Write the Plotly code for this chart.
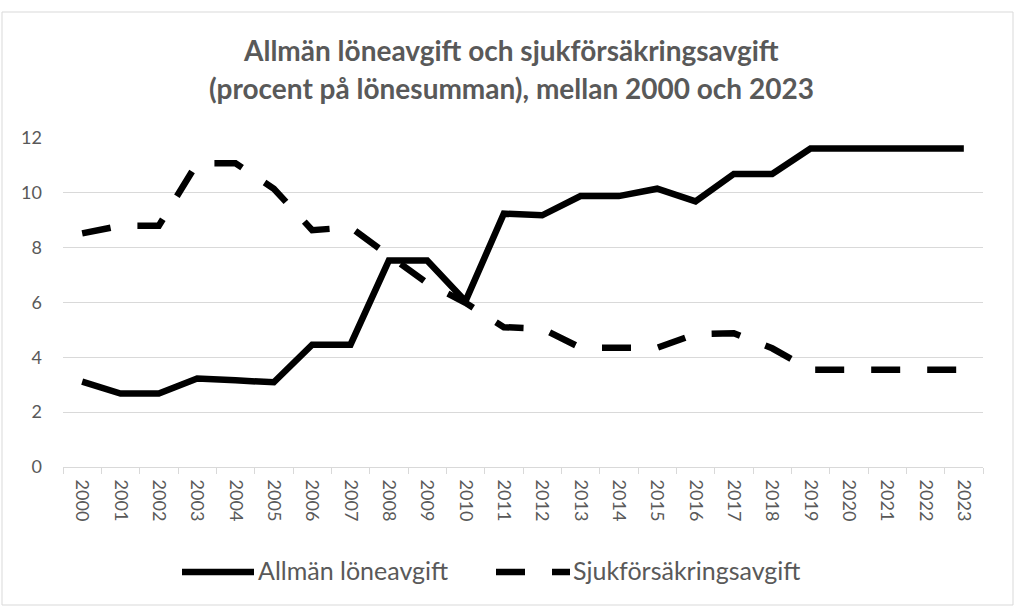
import plotly.graph_objects as go

years = [str(y) for y in range(2000, 2024)]
allman = [3.11, 2.68, 2.68, 3.23, 3.16, 3.09, 4.46, 4.46, 7.53, 7.53, 6.05, 9.24,
          9.18, 9.88, 9.88, 10.15, 9.69, 10.69, 10.69, 11.62, 11.62, 11.62, 11.62, 11.62]
sjuk = [8.52, 8.80, 8.80, 11.08, 11.08, 10.15, 8.64, 8.74, 7.72, 6.71, 5.99, 5.10,
        5.05, 4.35, 4.35, 4.35, 4.85, 4.88, 4.33, 3.55, 3.55, 3.55, 3.55, 3.55]
y_ticks = [0, 2, 4, 6, 8, 10, 12]
title_lines = ["Allmän löneavgift och sjukförsäkringsavgift",
               "(procent på lönesumman), mellan 2000 och 2023"]
names = ["Allmän löneavgift", "Sjukförsäkringsavgift"]

FONT = "Lato"
GRAY = "#595959"
LW = 6.5
DASH = "29px,27px"

fig = go.Figure()
fig.add_trace(go.Scatter(x=years, y=allman, mode="lines", name=names[0],
                         showlegend=False, line=dict(color="black", width=LW)))
fig.add_trace(go.Scatter(x=years, y=sjuk, mode="lines", name=names[1],
                         showlegend=False, line=dict(color="black", width=LW, dash=DASH)))

L, R, T, B = 63, 41, 138, 147
W, H = 1024, 614
pw, ph = W - L - R, H - T - B


def px_x(x):
    return (x - L) / pw


def px_y(y):
    return (H - B - y) / ph


annotations = [
    dict(text="<b>%s</b>" % title_lines[0], xref="paper", yref="paper",
         x=px_x(511), y=px_y(50), xanchor="center", yanchor="middle",
         showarrow=False, font=dict(family=FONT, size=28, color=GRAY)),
    dict(text="<b>%s</b>" % title_lines[1], xref="paper", yref="paper",
         x=px_x(511), y=px_y(88), xanchor="center", yanchor="middle",
         showarrow=False, font=dict(family=FONT, size=28, color=GRAY)),
    # legend labels
    dict(text=names[0], xref="paper", yref="paper", x=px_x(256), y=px_y(570),
         xanchor="left", yanchor="middle", showarrow=False,
         font=dict(family=FONT, size=25, color=GRAY)),
    dict(text=names[1], xref="paper", yref="paper", x=px_x(571), y=px_y(570),
         xanchor="left", yanchor="middle", showarrow=False,
         font=dict(family=FONT, size=25, color=GRAY)),
]

shapes = [
    dict(type="rect", xref="paper", yref="paper",
         x0=px_x(2), x1=px_x(1013), y0=px_y(605), y1=px_y(12),
         line=dict(color="#d9d9d9", width=1), layer="below"),
    # legend samples
    dict(type="line", xref="paper", yref="paper", x0=px_x(182), x1=px_x(254),
         y0=px_y(572), y1=px_y(572), line=dict(color="black", width=LW)),
    dict(type="line", xref="paper", yref="paper", x0=px_x(496), x1=px_x(570),
         y0=px_y(572), y1=px_y(572), line=dict(color="black", width=LW, dash=DASH)),
]

fig.update_layout(
    width=W, height=H,
    margin=dict(l=L, r=R, t=T, b=B),
    paper_bgcolor="white", plot_bgcolor="white",
    annotations=annotations,
    shapes=shapes,
    showlegend=False,
    xaxis=dict(type="category", range=[-0.5, len(years) - 0.5],
               showgrid=False, showline=True, linecolor="#d9d9d9", linewidth=1,
               ticks="outside", tickson="boundaries", ticklen=6, tickcolor="#d9d9d9",
               tickangle=90, ticklabelstandoff=8,
               tickfont=dict(family=FONT, size=18, color=GRAY)),
    yaxis=dict(range=[0, 12], tickvals=y_ticks, showgrid=True, gridcolor="#d9d9d9",
               gridwidth=1, zeroline=False, showline=False,
               ticklabelstandoff=20,
               tickfont=dict(family=FONT, size=18, color=GRAY)),
)

fig.write_html("out.html", config={"displayModeBar": False},
               post_script="document.body.style.margin='0';document.body.style.overflow='hidden';")
